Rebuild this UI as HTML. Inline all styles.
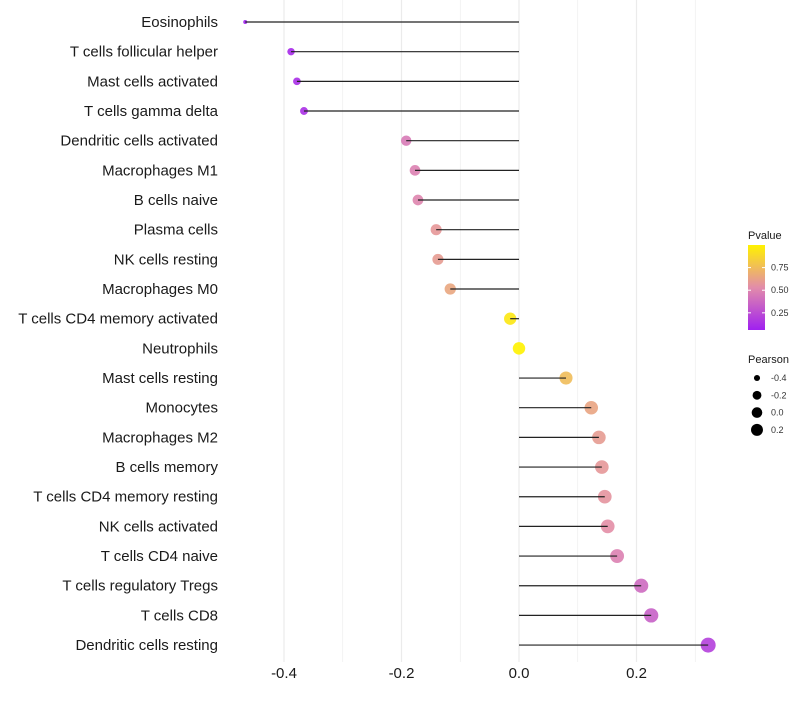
<!DOCTYPE html>
<html><head><meta charset="utf-8"><style>
body{margin:0;background:#fff;font-family:"Liberation Sans",sans-serif}
</style></head><body>
<svg id="chart" width="800" height="700" xmlns="http://www.w3.org/2000/svg"></svg>
<script>
const categories=["Eosinophils","T cells follicular helper","Mast cells activated","T cells gamma delta","Dendritic cells activated","Macrophages M1","B cells naive","Plasma cells","NK cells resting","Macrophages M0","T cells CD4 memory activated","Neutrophils","Mast cells resting","Monocytes","Macrophages M2","B cells memory","T cells CD4 memory resting","NK cells activated","T cells CD4 naive","T cells regulatory  Tregs ","T cells CD8","Dendritic cells resting"];
const pearson=[-0.466,-0.388,-0.378,-0.366,-0.192,-0.177,-0.172,-0.141,-0.138,-0.117,-0.015,0.0,0.080,0.123,0.136,0.141,0.146,0.151,0.167,0.208,0.225,0.322];
const pvalue=[0.06,0.1,0.12,0.13,0.45,0.48,0.5,0.58,0.6,0.65,0.95,1.0,0.75,0.64,0.6,0.58,0.56,0.54,0.48,0.38,0.34,0.2];
const xTicks=[-0.4,-0.2,0.0,0.2];
const xGrid=[-0.4,-0.3,-0.2,-0.1,0,0.1,0.2,0.3];
const pTicks=[0.25,0.5,0.75];
const sizeTicks=[-0.4,-0.2,0.0,0.2];

const NS="http://www.w3.org/2000/svg";
const svg=document.getElementById('chart');
const x=v=>519+v*587.5;
const y=i=>22+i*29.67;
const rad=v=>2+5.5*Math.sqrt(Math.max(0,(v+0.466)/0.79));
function lerp(a,b,t){return a.map((c,i)=>Math.round(c+(b[i]-c)*t));}
function col(p){const t=Math.max(0,Math.min(1,(p-0.06)/0.94));
 const s=[[160,32,240],[226,140,170],[255,242,0]];
 const c=t<0.5?lerp(s[0],s[1],t/0.5):lerp(s[1],s[2],(t-0.5)/0.5);return `rgb(${c})`;}
function mk(tag,attrs,parent){const e=document.createElementNS(NS,tag);for(const k in attrs)e.setAttribute(k,attrs[k]);(parent||svg).appendChild(e);return e;}

xGrid.forEach(v=>{const l=mk('line',{x1:x(v),x2:x(v),y1:0,y2:662,stroke:'#ebebeb','stroke-width':Math.round(v*10)%2===0?1.2:0.6});

});
categories.forEach((c,i)=>{
 const t=mk('text',{x:218,y:y(i)+5,'text-anchor':'end','font-size':15,fill:'#1a1a1a'});t.textContent=c;
 
 
 const pt=mk('circle',{cx:x(pearson[i]),cy:y(i),r:rad(pearson[i]),fill:col(pvalue[i]),opacity:0.9});
 
 
 const ln=mk('line',{x1:x(0),x2:x(pearson[i]),y1:y(i),y2:y(i),stroke:'#222','stroke-width':1.2});
 
 
});
xTicks.forEach(v=>{const t=mk('text',{x:x(v),y:678,'text-anchor':'middle','font-size':15,fill:'#1a1a1a'});t.textContent=v.toFixed(1);
 
 });
const g=mk('g',{});
const tt=mk('text',{x:748,y:239,'font-size':11,fill:'#1a1a1a'},g);tt.textContent='Pvalue';
const defs=mk('defs',{},g);const lg=mk('linearGradient',{id:'pg',x1:0,y1:1,x2:0,y2:0},defs);
[0,0.25,0.5,0.75,1].forEach(o=>mk('stop',{offset:o,'stop-color':col(0.06+o*0.94)},lg));
mk('rect',{x:748,y:245,width:17,height:85,fill:'url(#pg)'},g);
const py=p=>330-(p-0.06)/0.94*85;
pTicks.forEach(p=>{mk('line',{x1:748,x2:751,y1:py(p),y2:py(p),stroke:'#fff'},g);mk('line',{x1:762,x2:765,y1:py(p),y2:py(p),stroke:'#fff'},g);
 const t=mk('text',{x:771,y:py(p)+3,'font-size':9,fill:'#333'},g);t.textContent=p.toFixed(2);});
const g2=mk('g',{});
const t2=mk('text',{x:748,y:363,'font-size':11,fill:'#1a1a1a'},g2);t2.textContent='Pearson';
sizeTicks.forEach((v,i)=>{const cy=378+i*17.3;mk('circle',{cx:757,cy:cy,r:rad(v)*0.85,fill:'#000'},g2);
 const t=mk('text',{x:771,y:cy+3,'font-size':9,fill:'#333'},g2);t.textContent=v.toFixed(1);});
</script>
</body></html>
